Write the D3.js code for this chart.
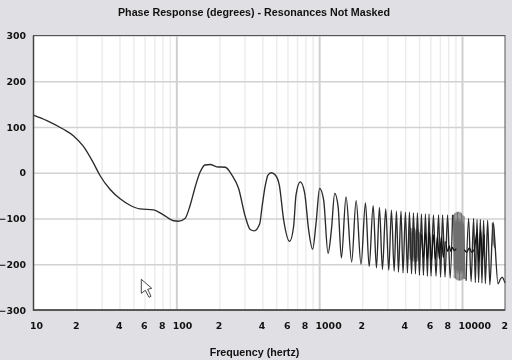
<!DOCTYPE html>
<html>
<head>
<meta charset="utf-8">
<script src="https://cdn.jsdelivr.net/npm/d3@7"></script>
<style>
  html, body { margin: 0; padding: 0; background: #e0e0e4; }
  svg { display: block; filter: blur(0.3px); }
  text { font-family: "DejaVu Sans", sans-serif; font-weight: bold; fill: #111; }
  .label { font-family: "Liberation Sans", sans-serif; font-size: 10.7px; }
</style>
</head>
<body>
<script>
const titleText = "Phase Response (degrees) - Resonances Not Masked";
const xLabel = "Frequency (hertz)";
const yTicks = [300, 200, 100, 0, -100, -200, -300];
const xGrid = [20, 30, 40, 50, 60, 70, 80, 90, 100, 200, 300, 400, 500, 600, 700, 800, 900, 1000, 2000, 3000, 4000, 5000, 6000, 7000, 8000, 9000, 10000];
const xMajor = [100, 1000, 10000];
const xTickText = [[10, "10"], [20, "2"], [40, "4"], [60, "6"], [80, "8"], [100, "100"], [200, "2"], [400, "4"], [600, "6"], [800, "8"], [1000, "1000"], [2000, "2"], [4000, "4"], [6000, "6"], [8000, "8"], [10000, "10000"], [20000, "2"]];

// main trace, null = pen up across the dense patch near 9 kHz
const phaseHz = [10, 12.4, 16.2, 19, 22.3, 26.2, 29.2, 34.3, 40.4, 47.4, 55.7, 69, 81.2, 95.5, 103.4, 115, 125, 135.5, 147, 159, 172.6, 192, 220, 245, 272.6, 304, 329, 351, 383, 398, 420, 438, 462, 493, 526, 564, 621, 662, 689, 738, 791, 844, 900, 951, 1008, 1075, 1154, 1218, 1285, 1357, 1431, 1542, 1689, 1814, 1963, 2109, 2239, 2387, 2518, 2642, 2773, 2924, 3070, 3206, 3351, 3476, 3589, 3741, 3864, 4018, 4150, 4285, 4436, 4571, 4721, 4875, 5035, 5200, 5370, 5546, 5728, 5875, 6068, 6310, 6577, 6855, 7079, 7311, 7606, 7925, 8260, 8590, 8600, 10685, 11125, 11580, 12060, 12396, 12740, 13070, 13440, 13790, 14170, 14570, 15120, 15670, 16500, 17890, 18410, 19080, 19630, 20000];
const phaseDeg = [126, 114, 95, 81, 58, 22, -6, -36, -57, -71, -79, -81, -92, -105, -106, -100, -71, -31, 2, 17, 18, 13, 12, -5, -34, -96, -124, -127, -112, -75, -27, -5, 0, -5, -27, -103, -150, -118, -48, -20, -44, -125, -167, -110, -34, -60, -176, -125, -45, -74, -186, -53, -195, -61, -200, -66, -205, -72, -208, -76, -211, -79, -213, -82, -215, -84, -217, -84, -219, -86, -219, -86, -221, -88, -221, -88, -224, -90, -224, -90, -226, -90, -226, -92, -226, -92, -228, -92, -228, -92, -230, -92, null, -236, -100, -238, -100, -240, -102, -240, -102, -241, -104, -242, -104, -245, -108, -243, -235, -228, -234, -241];

// lighter dense patches
const greyHz = [4285, 4330, 4376, 4423, 4470, 4517, 4565, 4613, 4662, 4712, 4762, 4812, 4863, 4915, 4967, 5020, 5073, 5080, 8730, 8823, 8916, 9011, 9107, 9203, 9301, 9400, 9500, 9601, 9703, 9806, 9910, 10015, 10122, 10229, 10338, 10448, 10450, 16300, 16500, 16700, 16900];
const greyDeg = [-125, -190, -120, -195, -122, -192, -125, -195, -120, -190, -125, -195, -122, -192, -125, -190, -130, null, -92, -230, -88, -232, -86, -234, -85, -236, -85, -236, -86, -236, -88, -234, -92, -232, -95, -232, null, -110, -160, -112, -165];

// darker inner tangle
const innerHz = [5200, 5370, 5546, 5728, 5915, 6105, 6305, 6510, 6725, 6945, 7170, 7400, 7640, 7650, 7760, 7950, 8145, 8350, 8550, 8830, 9120, 9130, 10380, 10800, 11250, 11700, 12190, 12740, 13100, 13500, 13900, 14300];
const innerDeg = [-135, -185, -130, -190, -130, -192, -135, -190, -140, -188, -140, -185, -150, null, -160, -172, -160, -172, -163, -170, -166, null, -168, -174, -164, -174, -168, -130, -195, -125, -190, -135];

const margin = { top: 35.5, right: 7, bottom: 50, left: 33.5 };
const width = 512 - margin.left - margin.right;
const height = 360 - margin.top - margin.bottom;

const xScale = d3.scaleLog().domain([10, 20000]).range([0, width]);
const yScale = d3.scaleLinear().domain([-300, 300]).range([height, 0]);

const svg = d3.select("body").append("svg").attr("width", 512).attr("height", 360);

svg.append("text").attr("class", "label")
  .attr("x", 254).attr("y", 15.5).attr("text-anchor", "middle").text(titleText);
svg.append("text").attr("class", "label")
  .attr("x", 254.5).attr("y", 356).attr("text-anchor", "middle").text(xLabel);

const container = svg.append("g").attr("transform", `translate(${margin.left}, ${margin.top})`);

container.append("rect").attr("width", width).attr("height", height).attr("fill", "#fff");

// grid comes from the axes' own ticks
const xAxis = container.append("g")
  .call(d3.axisBottom(xScale).tickValues(xGrid).tickSize(height).tickFormat(""));
xAxis.select(".domain").remove();
xAxis.selectAll("line")
  .attr("stroke", (d) => (xMajor.includes(d) ? "#cfcfcf" : "#ececec"))
  .attr("stroke-width", (d) => (xMajor.includes(d) ? 2 : 1.4));

const yAxis = container.append("g")
  .call(d3.axisLeft(yScale).tickValues(yTicks).tickSize(-width).tickPadding(7.5));
yAxis.select(".domain").remove();
yAxis.selectAll("line").attr("stroke", "#d2d2d2").attr("stroke-width", 1.4);
yAxis.selectAll("text").attr("font-size", 9.4);

// x labels start just left of their grid line
container.append("g").selectAll("text")
  .data(xTickText)
  .join("text")
  .attr("x", (d) => xScale(d[0]) - 3.6)
  .attr("y", height + 19)
  .attr("font-size", 9.4)
  .text((d) => d[1]);

const line = d3.line()
  .defined((d) => d[1] !== null)
  .x((d) => xScale(d[0]))
  .y((d) => yScale(d[1]))
  .curve(d3.curveMonotoneX);

const drawTrace = (hz, deg, color, w) => container.append("path")
  .attr("d", line(hz.map((f, i) => [f, deg[i]])))
  .attr("fill", "none")
  .attr("stroke", color)
  .attr("stroke-width", w);

drawTrace(greyHz, greyDeg, "#707070", 1.2);
drawTrace(phaseHz, phaseDeg, "#2b2b2b", 1.35);
drawTrace(innerHz, innerDeg, "#111", 1.2);

// plot frame, heavier on the left and bottom
const frame = container.append("g").attr("fill", "none");
frame.append("rect").attr("width", width).attr("height", height).attr("stroke", "#555").attr("stroke-width", 1);
frame.append("path").attr("d", `M0,0V${height}H${width}`).attr("stroke", "#444").attr("stroke-width", 1.5);

// mouse pointer left in the screenshot
svg.append("path")
  .attr("d", "M141.3,279.3V293.3L145.3,290.3L149,297.3L151,296.3L147.7,289.3L151.7,288.3Z")
  .attr("fill", "#fff").attr("stroke", "#333").attr("stroke-width", 0.9);
</script>
</body>
</html>
